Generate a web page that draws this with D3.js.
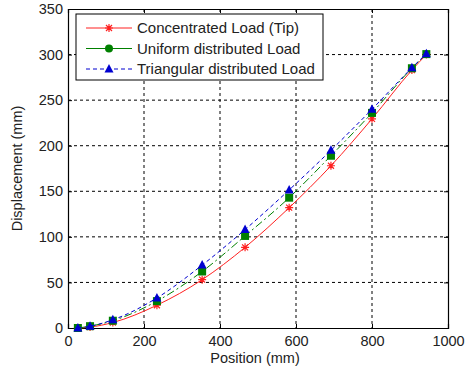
<!DOCTYPE html>
<html>
<head>
<meta charset="utf-8">
<script src="https://cdnjs.cloudflare.com/ajax/libs/d3/7.8.5/d3.min.js"></script>
<style>
  body { margin: 0; background: #fff; }
  text { font-family: "Liberation Sans", Arial, sans-serif; }
</style>
</head>
<body>
<div id="chart"></div>
<script>
// positions along the beam (mm)
const positions = [26, 58, 118, 234, 353, 466, 582, 692, 800, 905, 943]
const concentrated = [0, 1, 6, 25, 53, 88.5, 132, 178, 229.5, 283, 300]
const uniform = [0, 2, 8, 29.5, 62, 101, 143, 189, 236, 285, 300.5]
const triangular = [0, 2, 9, 33, 69, 108, 151.5, 195, 240, 285.5, 301]
const xTicks = [0, 200, 400, 600, 800, 1000]
const yTicks = [0, 50, 100, 150, 200, 250, 300, 350]
const seriesNames = ['Concentrated Load (Tip)', 'Uniform distributed Load', 'Triangular distributed Load']

const W = 470
const H = 367
const margin = { top: 9, right: 22, bottom: 39, left: 68 }
const width = W - margin.left - margin.right
const height = H - margin.top - margin.bottom

const svg = d3.select('#chart').append('svg')
  .attr('width', W)
  .attr('height', H)

const g = svg.append('g')
  .attr('transform', `translate(${margin.left},${margin.top})`)

const x = d3.scaleLinear().domain([0, 1000]).range([0, width])
const y = d3.scaleLinear().domain([0, 350]).range([height, 0])

// dashed grid
g.append('g').selectAll('line')
  .data(xTicks.slice(1, -1))
  .enter().append('line')
  .attr('x1', d => x(d)).attr('x2', d => x(d))
  .attr('y1', 0).attr('y2', height)
  .attr('stroke', '#000').attr('stroke-dasharray', '3,3')
g.append('g').selectAll('line')
  .data(yTicks.slice(1, -1))
  .enter().append('line')
  .attr('x1', 0).attr('x2', width)
  .attr('y1', d => y(d)).attr('y2', d => y(d))
  .attr('stroke', '#000').attr('stroke-dasharray', '3,3')

// axes, ticks inward
g.append('g')
  .attr('transform', `translate(0,${height})`)
  .call(d3.axisBottom(x).tickValues(xTicks).tickFormat(d3.format('d')).tickSize(-4).tickPadding(8))
g.append('g')
  .call(d3.axisLeft(y).tickValues(yTicks).tickSize(-4).tickPadding(5))
g.append('g')
  .call(d3.axisTop(x).tickValues(xTicks).tickSize(-4).tickFormat(''))
g.append('g')
  .attr('transform', `translate(${width},0)`)
  .call(d3.axisRight(y).tickValues(yTicks).tickSize(-4).tickFormat(''))

g.selectAll('.domain').attr('stroke', '#000').attr('stroke-width', 1.2)
g.selectAll('.tick text').attr('font-size', 14.5).attr('fill', '#222')
  .style('font-family', '"Liberation Sans", Arial, sans-serif')

svg.append('text')
  .attr('x', margin.left + width / 2 - 3).attr('y', H - 4)
  .attr('text-anchor', 'middle').attr('font-size', 14.5).attr('fill', '#222')
  .text('Position (mm)')
svg.append('text')
  .attr('transform', `translate(22,${margin.top + height / 2}) rotate(-90)`)
  .attr('text-anchor', 'middle').attr('font-size', 14.5).attr('fill', '#222')
  .text('Displacement (mm)')

const series = [
  { name: seriesNames[0], values: concentrated, color: '#ff2020', dash: null, marker: 'star' },
  { name: seriesNames[1], values: uniform, color: '#008000', dash: '8,3,2,3', marker: 'square' },
  { name: seriesNames[2], values: triangular, color: '#0000d0', dash: '4,3', marker: 'triangle' }
]

const line = d3.line()
  .x(d => x(d[0]))
  .y(d => y(d[1]))
  .curve(d3.curveMonotoneX)

const drawMarker = (sel, type, color, cx, cy) => {
  if (type === 'star') {
    sel.append('path')
      .attr('transform', `translate(${cx},${cy})`)
      .attr('d', 'M-4,0H4M0,-4V4M-3,-3L3,3M-3,3L3,-3')
      .attr('stroke', color).attr('stroke-width', 1.2).attr('fill', 'none')
  } else if (type === 'square') {
    sel.append('rect')
      .attr('x', cx - 4).attr('y', cy - 4).attr('width', 8).attr('height', 8)
      .attr('fill', color)
  } else if (type === 'circle') {
    sel.append('circle')
      .attr('cx', cx).attr('cy', cy).attr('r', 4).attr('fill', color)
  } else {
    sel.append('path')
      .attr('transform', `translate(${cx},${cy})`)
      .attr('d', 'M0,-5L4.5,3.5L-4.5,3.5Z')
      .attr('fill', color)
  }
}

series.forEach(s => {
  const pts = positions.map((p, i) => [p, s.values[i]])
  g.append('path')
    .datum(pts)
    .attr('d', line)
    .attr('fill', 'none')
    .attr('stroke', s.color)
    .attr('stroke-width', 1)
    .attr('stroke-dasharray', s.dash)
  const mg = g.append('g')
  pts.forEach(p => drawMarker(mg, s.marker, s.color, x(p[0]), y(p[1])))
})

// legend
const legend = svg.append('g').attr('transform', 'translate(76,14)')
legend.append('rect')
  .attr('width', 247).attr('height', 66)
  .attr('fill', '#fff').attr('stroke', '#000')
series.forEach((s, i) => {
  const ly = 14 + i * 20.5
  legend.append('line')
    .attr('x1', 10).attr('x2', 56).attr('y1', ly).attr('y2', ly)
    .attr('stroke', s.color).attr('stroke-dasharray', s.dash === '4,3' ? '4,3' : null)
  drawMarker(legend, s.marker === 'square' ? 'circle' : s.marker, s.color, 33, ly)
  legend.append('text')
    .attr('x', 61).attr('y', ly + 5)
    .attr('font-size', 15).attr('fill', '#222')
    .text(s.name)
})
</script>
</body>
</html>
